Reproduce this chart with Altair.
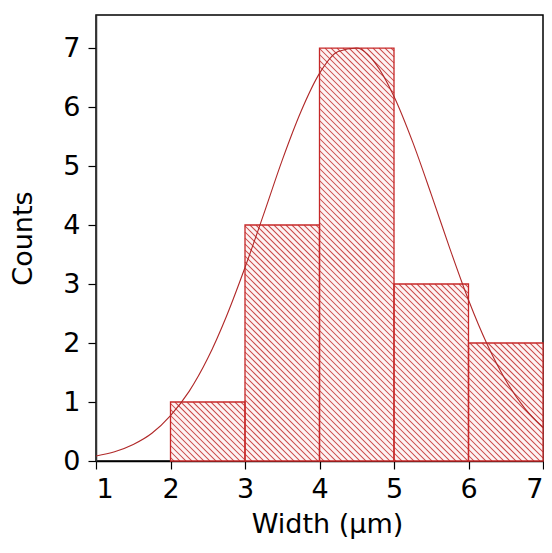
import altair as alt
import pandas as pd
import math

# Histogram bins (Width in µm) and counts
bin_start = [2, 3, 4, 5, 6]
bin_end = [3, 4, 5, 6, 7]
counts = [1, 4, 7, 3, 2]

# Fitted curve
curve_x = [1.0, 1.25, 1.5, 1.75, 2.0, 2.25, 2.5, 2.75, 3.0, 3.25, 3.5, 3.75, 4.0,
           4.25, 4.5, 4.75, 5.0, 5.25, 5.5, 5.75, 6.0, 6.25, 6.5, 6.75, 7.0]
curve_y = [0.085, 0.157, 0.28, 0.47, 0.77, 1.18, 1.74, 2.45, 3.28, 4.18, 5.10, 5.92, 6.57,
           6.94, 7.00, 6.74, 6.18, 5.41, 4.52, 3.60, 2.73, 1.98, 1.37, 0.90, 0.57]

x_ticks = [1, 2, 3, 4, 5, 6, 7]
x_minor = [1.5, 2.5, 3.5, 4.5, 5.5, 6.5]
y_ticks = [0, 1, 2, 3, 4, 5, 6, 7]

XMIN, XMAX = 1, 7
YMIN, YMAX = 0, 7.56
W, H = 447, 446

bars = pd.DataFrame({"x0": bin_start, "x1": bin_end, "count": counts, "zero": [0] * len(counts)})
curve = pd.DataFrame({"x": curve_x, "y": curve_y})

# Hatch lines ("\\" direction) clipped to each bar, derived from the bar data
sx = W / (XMAX - XMIN)
sy = H / (YMAX - YMIN)
step = 6.0
rows = []
for a, b, h in zip(bin_start, bin_end, counts):
    u0, u1, vh = (a - XMIN) * sx, (b - XMIN) * sx, h * sy
    k = math.ceil(u0 / step)
    while k * step < u1 + vh:
        c = k * step
        ua = max(u0, c - vh)
        ub = min(u1, c)
        if ub > ua:
            rows.append({
                "hx": ua / sx + XMIN, "hy": (c - ua) / sy,
                "hx2": ub / sx + XMIN, "hy2": (c - ub) / sy,
            })
        k += 1
hatch = pd.DataFrame(rows)

red = "#c62828"
hatch_red = "#c94444"
font = "DejaVu Sans"
fs = 27

x_scale = alt.Scale(domain=[XMIN, XMAX], nice=False, zero=False)
y_scale = alt.Scale(domain=[YMIN, YMAX], nice=False, zero=False)

x_axis = alt.Axis(
    values=x_ticks + x_minor, format="d",
    labelExpr="datum.value % 1 ? '' : datum.label",
    tickSize={"condition": {"test": "datum.value % 1 == 0", "value": 8}, "value": 4},
    title="Width (\u03bcm)", titleX=231, grid=False, domainColor="black", tickColor="black",
    labelFontSize=fs, titleFontSize=fs, labelFont=font, titleFont=font,
    labelColor="black", titleColor="black", titleFontWeight="normal",
    labelPadding=7, titlePadding=9, domainWidth=1.5, tickWidth=1.2,
)
y_axis = alt.Axis(
    values=y_ticks, format="d", title="Counts", grid=False, domainColor="#333333", tickColor="black",
    tickSize=8, labelFontSize=fs, titleFontSize=fs, labelFont=font, titleFont=font,
    labelColor="black", titleColor="black", titleFontWeight="normal",
    labelPadding=8, titlePadding=25, domainWidth=1.5, tickWidth=1.2,
)

fill_layer = alt.Chart(bars).mark_rect(fill="#fdf3f3", strokeWidth=0).encode(
    x=alt.X("x0:Q", scale=x_scale, axis=x_axis),
    x2="x1:Q",
    y=alt.Y("count:Q", scale=y_scale, axis=y_axis),
    y2="zero:Q",
)

hatch_layer = alt.Chart(hatch).mark_rule(stroke=hatch_red, strokeWidth=1.05, clip=True).encode(
    x=alt.X("hx:Q", scale=x_scale),
    y=alt.Y("hy:Q", scale=y_scale),
    x2="hx2:Q",
    y2="hy2:Q",
)

bar_layer = alt.Chart(bars).mark_rect(fillOpacity=0, stroke=red, strokeWidth=1.3).encode(
    x=alt.X("x0:Q", scale=x_scale),
    x2="x1:Q",
    y=alt.Y("count:Q", scale=y_scale),
    y2="zero:Q",
)

curve_layer = alt.Chart(curve).mark_line(color="#b02828", strokeWidth=1.1, interpolate="monotone", clip=True).encode(
    x=alt.X("x:Q", scale=x_scale),
    y=alt.Y("y:Q", scale=y_scale),
)

chart = alt.layer(fill_layer, hatch_layer, bar_layer, curve_layer).properties(
    width=W, height=H,
    padding={"left": 88, "top": 7, "right": 1, "bottom": 84},
    autosize=alt.AutoSizeParams(type="none"),
).configure(background="white").configure_view(stroke="black", strokeWidth=1.5)

chart.save("out.html", embed_options={"renderer": "svg", "actions": False})
